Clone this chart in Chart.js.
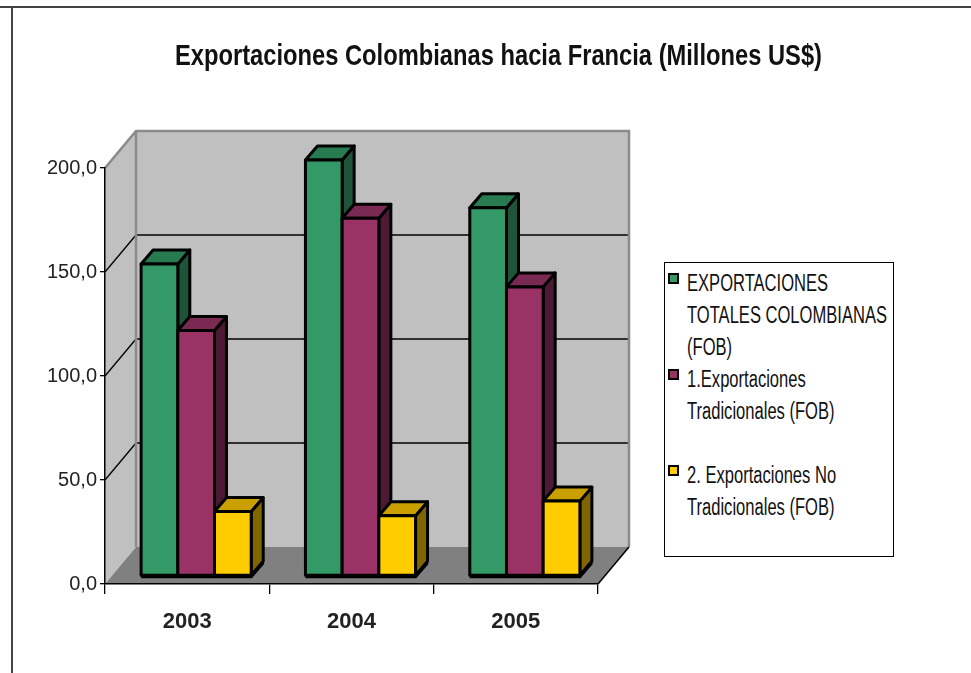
<!DOCTYPE html>
<html>
<head>
<meta charset="utf-8">
<script src="https://cdn.jsdelivr.net/npm/chart.js@4.4.1/dist/chart.umd.min.js"></script>
<style>
  html, body { margin: 0; padding: 0; background: #fff; }
  #wrap { position: relative; width: 971px; height: 673px; overflow: hidden; }
  #chart { position: absolute; left: 0; top: 0; }
  #legend {
    position: absolute; left: 664px; top: 262px; width: 230px; height: 295px;
    box-sizing: border-box; border: 1px solid #000; background: #fff;
    padding-top: 4px; font-family: "Liberation Sans", Arial, sans-serif; color: #111;
  }
  .item { position: relative; height: 96px; }
  .swatch { position: absolute; left: 3px; top: 6px; width: 7px; height: 7px; border: 2px solid #000; }
  .line { height: 32px; line-height: 32px; margin-left: 22px; white-space: nowrap; font-size: 23px; }
  .line span { display: inline-block; transform: scaleX(0.72); transform-origin: 0 50%; }
</style>
</head>
<body>
<div id="wrap">
  <canvas id="chart" width="971" height="673"></canvas>
  <div id="legend"></div>
</div>
<script>
// Colombian exports to France, millions of US$ (FOB)
const categories = ['2003', '2004', '2005'];
const totales = [150, 200, 177];
const tradicionales = [118, 172, 139];
const noTradicionales = [31, 29, 36];
const yTickLabels = ['0,0', '50,0', '100,0', '150,0', '200,0'];
const seriesNames = [
  ['EXPORTACIONES', 'TOTALES COLOMBIANAS', '(FOB)'],
  ['1.Exportaciones', 'Tradicionales (FOB)'],
  ['2. Exportaciones No', 'Tradicionales (FOB)']
];

// face shading for the extruded columns
const faces = [
  { front: '#339966', top: '#287a51', side: '#1e553a' },
  { front: '#993366', top: '#7a2952', side: '#4d1a36' },
  { front: '#ffcc00', top: '#c9a000', side: '#806600' }
];

const WALL = { dx: 31, dy: -37 };     // depth of the floor / side wall
const SHIFT = { dx: 9, dy: -8 };      // columns sit a little inside the floor
const DEPTH = { dx: 12, dy: -14 };    // depth of each column
const TITLE_BOX = { left: 175, right: 822 }; // narrow band the title is fitted into

function poly(ctx, pts) {
  ctx.beginPath();
  ctx.moveTo(pts[0][0], pts[0][1]);
  for (let i = 1; i < pts.length; i++) ctx.lineTo(pts[i][0], pts[i][1]);
  ctx.closePath();
}

const framePlugin = {
  id: 'frame',
  afterLayout(chart) {
    // fit the title into a condensed band centred over plot + legend
    if (chart.titleBlock) {
      chart.titleBlock.left = TITLE_BOX.left;
      chart.titleBlock.right = TITLE_BOX.right;
      chart.titleBlock.width = TITLE_BOX.right - TITLE_BOX.left;
    }
  },
  beforeDraw(chart) {
    const ctx = chart.ctx;
    ctx.save();
    ctx.fillStyle = '#fff';
    ctx.fillRect(0, 0, chart.width, chart.height);
    ctx.strokeStyle = '#444';
    ctx.lineWidth = 2;
    ctx.beginPath();
    ctx.moveTo(0, 7);
    ctx.lineTo(971, 7);
    ctx.moveTo(12, 673);
    ctx.lineTo(12, 7);
    ctx.stroke();
    ctx.restore();
  }
};

const box3dPlugin = {
  id: 'box3d',
  beforeDatasetsDraw(chart) {
    const { ctx, chartArea, scales } = chart;
    const { left, right } = chartArea;
    const y = scales.y;
    const y0 = y.getPixelForValue(y.min);
    const yTop = y.getPixelForValue(y.max);
    const bx = WALL.dx, by = WALL.dy;

    ctx.save();
    // side wall
    ctx.fillStyle = '#c0c0c0';
    poly(ctx, [[left, yTop], [left + bx, yTop + by], [left + bx, y0 + by], [left, y0]]);
    ctx.fill();
    // back wall
    ctx.fillRect(left + bx, yTop + by, right - left, y0 - yTop);
    // floor
    ctx.fillStyle = '#808080';
    poly(ctx, [[left, y0], [left + bx, y0 + by], [right + bx, y0 + by], [right, y0]]);
    ctx.fill();

    // gridlines across side and back walls
    ctx.strokeStyle = '#000';
    ctx.lineWidth = 1.3;
    y.ticks.forEach(t => {
      if (t.value <= y.min || t.value >= y.max) return;
      const yy = y.getPixelForValue(t.value);
      ctx.beginPath();
      ctx.moveTo(left, yy);
      ctx.lineTo(left + bx, yy + by);
      ctx.lineTo(right + bx, yy + by);
      ctx.stroke();
    });

    // wall edges
    ctx.strokeStyle = '#8a8a8a';
    ctx.lineWidth = 2.5;
    ctx.beginPath();
    ctx.moveTo(left, yTop);
    ctx.lineTo(left + bx, yTop + by);
    ctx.lineTo(right + bx, yTop + by);
    ctx.lineTo(right + bx, y0 + by);
    ctx.moveTo(left + bx, yTop + by);
    ctx.lineTo(left + bx, y0 + by);
    ctx.stroke();

    // floor right edge
    ctx.strokeStyle = '#000';
    ctx.lineWidth = 1.5;
    ctx.beginPath();
    ctx.moveTo(right, y0);
    ctx.lineTo(right + bx, y0 + by);
    ctx.stroke();

    // extruded columns
    ctx.translate(SHIFT.dx, SHIFT.dy);
    ctx.lineJoin = 'round';
    ctx.lineWidth = 3;
    ctx.strokeStyle = '#000';
    chart.data.datasets.forEach((ds, di) => {
      const meta = chart.getDatasetMeta(di);
      const f = faces[di];
      meta.data.forEach(el => {
        const p = el.getProps(['x', 'y', 'base', 'width'], true);
        const xl = p.x - p.width / 2, xr = p.x + p.width / 2;
        const yt = p.y, yb = p.base;
        const dx = DEPTH.dx, dy = DEPTH.dy;
        // side face
        ctx.fillStyle = f.side;
        poly(ctx, [[xr, yt], [xr + dx, yt + dy], [xr + dx, yb + dy], [xr, yb]]);
        ctx.fill(); ctx.stroke();
        // top face
        ctx.fillStyle = f.top;
        poly(ctx, [[xl, yt], [xr, yt], [xr + dx, yt + dy], [xl + dx, yt + dy]]);
        ctx.fill(); ctx.stroke();
        // front face
        ctx.fillStyle = f.front;
        poly(ctx, [[xl, yt], [xr, yt], [xr, yb], [xl, yb]]);
        ctx.fill(); ctx.stroke();
        // heavier base edge
        ctx.beginPath();
        ctx.moveTo(xl, yb + 1.5);
        ctx.lineTo(xr, yb + 1.5);
        ctx.lineTo(xr + dx, yb + dy + 1.5);
        ctx.stroke();
      });
    });
    ctx.restore();
    return false;
  }
};

const chart = new Chart(document.getElementById('chart'), {
  type: 'bar',
  data: {
    labels: categories,
    datasets: [
      { label: seriesNames[0].join(' '), data: totales, backgroundColor: faces[0].front },
      { label: seriesNames[1].join(' '), data: tradicionales, backgroundColor: faces[1].front },
      { label: seriesNames[2].join(' '), data: noTradicionales, backgroundColor: faces[2].front }
    ]
  },
  options: {
    responsive: false,
    devicePixelRatio: 1,
    animation: false,
    events: [],
    layout: { padding: { left: 26, right: 0, top: 0, bottom: 0 } },
    datasets: { bar: { categoryPercentage: 0.67, barPercentage: 1.0 } },
    plugins: {
      legend: { display: false },
      tooltip: { enabled: false },
      title: {
        display: true,
        text: 'Exportaciones Colombianas hacia Francia (Millones US$)',
        color: '#111',
        font: { family: '"Liberation Sans", Arial, sans-serif', size: 30, weight: 'bold', lineHeight: 1.2 },
        padding: { top: 39, bottom: 93 }
      }
    },
    scales: {
      x: {
        afterFit(scale) { scale.height = 89; },
        grid: { offset: true, drawOnChartArea: false, drawTicks: true, tickLength: 10, color: '#000', lineWidth: 1.3, z: 1 },
        border: { display: true, color: '#000', width: 1.5, z: 1 },
        ticks: {
          z: 1,
          color: '#222',
          padding: 15,
          font: { family: '"Liberation Sans", Arial, sans-serif', size: 22, weight: 'bold' }
        }
      },
      y: {
        min: 0,
        max: 200,
        afterFit(scale) { scale.width = 79; },
        grid: { drawOnChartArea: false, drawTicks: true, tickLength: 5, color: '#000', lineWidth: 1.3, z: 1 },
        border: { display: true, color: '#000', width: 1.5, z: 1 },
        ticks: {
          z: 1,
          stepSize: 50,
          padding: 3,
          color: '#222',
          font: { family: '"Liberation Sans", Arial, sans-serif', size: 20 },
          callback: (v, i) => yTickLabels[i]
        }
      },
      // reserves the space on the right that the legend box occupies
      legendSpace: {
        type: 'linear',
        position: 'right',
        afterFit(scale) { scale.width = 373; },
        grid: { display: false, drawOnChartArea: false },
        border: { display: false },
        ticks: { display: false }
      }
    }
  },
  plugins: [framePlugin, box3dPlugin]
});

// legend built from the chart's own datasets
const legendEl = document.getElementById('legend');
chart.data.datasets.forEach((ds, i) => {
  const item = document.createElement('div');
  item.className = 'item';
  const sw = document.createElement('div');
  sw.className = 'swatch';
  sw.style.background = ds.backgroundColor;
  item.appendChild(sw);
  seriesNames[i].forEach(txt => {
    const line = document.createElement('div');
    line.className = 'line';
    const span = document.createElement('span');
    span.textContent = txt;
    line.appendChild(span);
    item.appendChild(line);
  });
  legendEl.appendChild(item);
});
</script>
</body>
</html>
